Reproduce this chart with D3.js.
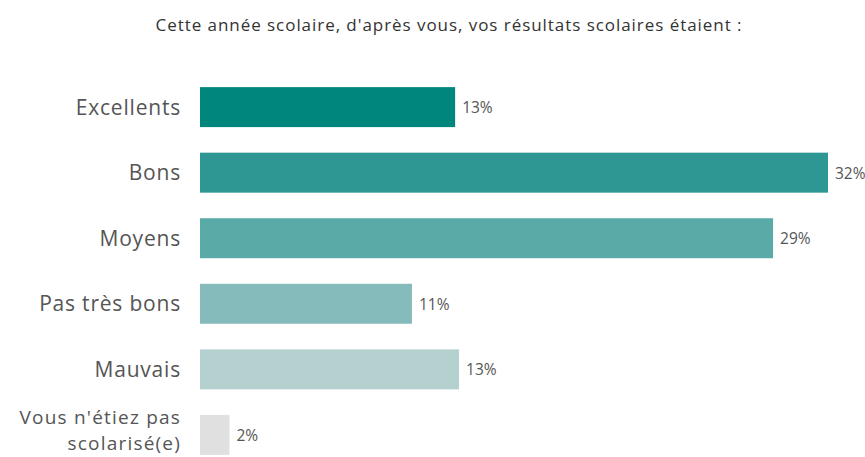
<!DOCTYPE html>
<html><head><meta charset="utf-8">
<script src="https://cdn.jsdelivr.net/npm/d3@7"></script>
<style>body{margin:0;background:#fff;overflow:hidden}svg{display:block}</style>
</head><body>
<script>
const title = "Cette année scolaire, d'après vous, vos résultats scolaires étaient :";
const categories = ["Excellents", "Bons", "Moyens", "Pas très bons", "Mauvais", "Vous n'étiez pas|scolarisé(e)"];
const values = [13.0, 32.0, 29.2, 10.8, 13.2, 1.5];
const valueLabels = ["13%", "32%", "29%", "11%", "13%", "2%"];
const colors = ["#00867d", "#2e9794", "#5aaaa7", "#85bcbb", "#b4d0cf", "#e0e0e0"];

const W = 865, H = 457;
const svg = d3.select("body").append("svg").attr("width", W).attr("height", H);
const font = "'Open Sans', Lato, sans-serif";

svg.append("text").attr("x", 449).attr("y", 31).attr("text-anchor", "middle")
  .attr("font-family", font).attr("font-size", 17).attr("letter-spacing", 0.95)
  .attr("fill", "#333").text(title);

const x = d3.scaleLinear().domain([0, 32]).range([200, 828]);
const y = d3.scaleBand().domain(categories).range([74, 468]).paddingInner(0.39).paddingOuter(0.2);

svg.selectAll("rect.bar").data(categories).join("rect").attr("class", "bar")
  .attr("x", x(0)).attr("y", d => y(d)).attr("height", y.bandwidth())
  .attr("width", (d, i) => x(values[i]) - x(0))
  .attr("fill", (d, i) => colors[i]);

svg.selectAll("text.cat").data(categories).join("text").attr("class", "cat")
  .attr("text-anchor", "end").attr("font-family", font)
  .attr("font-size", d => d.includes("|") ? 19 : 21)
  .attr("letter-spacing", d => d.includes("|") ? 1.2 : 0.8).attr("fill", "#555")
  .each(function(d) {
    const lines = d.split("|");
    const cy = y(d) + y.bandwidth() / 2;
    const t = d3.select(this);
    lines.forEach((l, k) => {
      t.append("tspan").attr("x", 181)
        .attr("y", cy + (lines.length > 1 ? 2 : 7.5) + (k - (lines.length - 1) / 2) * 26).text(l);
    });
  });

svg.selectAll("text.val").data(categories).join("text").attr("class", "val")
  .attr("x", (d, i) => x(values[i]) + 7).attr("y", d => y(d) + y.bandwidth() / 2 + 6)
  .attr("font-family", font).attr("font-size", 15.5).attr("fill", "#555")
  .text((d, i) => valueLabels[i]);
</script>
</body></html>
